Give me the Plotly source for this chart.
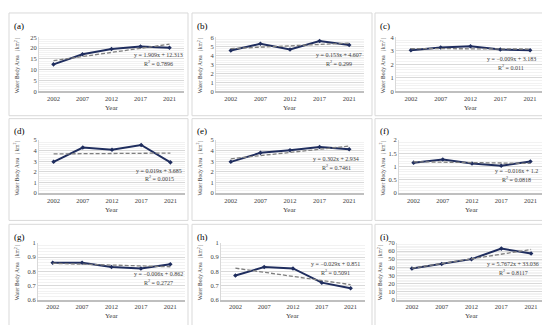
import plotly.graph_objects as go

W, H = 550, 325

years = ["2002", "2007", "2012", "2017", "2021"]

panel_labels = ["(a)", "(b)", "(c)", "(d)", "(e)", "(f)", "(g)", "(h)", "(i)"]

area_a = [12.5, 17.2, 19.6, 20.8, 20.2]
area_b = [4.55, 5.3, 4.65, 5.6, 5.15]
area_c = [3.05, 3.25, 3.35, 3.1, 3.05]
area_d = [2.95, 4.3, 4.1, 4.55, 2.9]
area_e = [2.95, 3.8, 4.05, 4.35, 4.15]
area_f = [1.15, 1.27, 1.12, 1.03, 1.19]
area_g = [0.86, 0.86, 0.83, 0.82, 0.85]
area_h = [0.77, 0.83, 0.82, 0.72, 0.68]
area_i = [38.5, 44.0, 50.0, 63.0, 57.0]

# trend-line end values (2002, 2021)
trend_a = [14.22, 21.86]
trend_b = [4.76, 5.37]
trend_c = [3.174, 3.138]
trend_d = [3.70, 3.78]
trend_e = [3.24, 4.44]
trend_f = [1.184, 1.12]
trend_g = [0.856, 0.832]
trend_h = [0.822, 0.706]
trend_i = [38.8, 61.9]

equations = ["y = 1.909x + 12.313", "y = 0.153x + 4.607", "y = −0.009x + 3.183",
             "y = 0.019x + 3.685", "y = 0.302x + 2.934", "y = −0.016x + 1.2",
             "y = −0.006x + 0.862", "y = −0.029x + 0.851", "y = 5.7672x + 33.036"]
r_squared = ["0.7896", "0.299", "0.011", "0.0015", "0.7461", "0.0818",
             "0.2727", "0.5091", "0.8117"]

y_ranges = [[0, 25], [0, 6], [0, 4], [0, 5], [0, 5], [0, 2], [0.6, 1], [0.6, 1], [0, 70]]
y_dticks = [5, 1, 1, 1, 1, 0.5, 0.1, 0.1, 10]

areas = [area_a, area_b, area_c, area_d, area_e, area_f, area_g, area_h, area_i]
trends = [trend_a, trend_b, trend_c, trend_d, trend_e, trend_f, trend_g, trend_h, trend_i]

# layout (pixels)
plot_x = [(31, 176), (208, 356), (388, 537),
          (31, 177), (208, 356), (391, 537),
          (30, 177), (213, 357), (389, 538)]
row_y = [(26, 81), (131, 185), (236, 294)]
panel_x = [(1, 180), (184, 364), (367, 548)]
panel_y = [(1, 106), (109, 213), (217, 322)]
eq_pos = [(150, 44), (331, 44), (503, 48),
          (151, 162), (328, 150), (508, 163),
          (150, 268), (327, 258), (505, 258)]
ytitle_dx = [8, 8, 8, 8, 8, 8, 8, 8, 5]

FONT = "Liberation Serif"
NAVY = "#1F2D5E"
TXT = "#404040"

def px(x):
    return x / W

def py(y):
    return 1 - y / H

fig = go.Figure()
annotations = []
shapes = []
layout = {}

for i in range(9):
    r, c = divmod(i, 3)
    n = "" if i == 0 else str(i + 1)
    xa, ya = "x" + n, "y" + n
    x0, x1 = plot_x[i]
    y0, y1 = row_y[r]
    layout["xaxis" + n] = dict(
        domain=[px(x0), px(x1)], anchor=ya, type="category",
        categoryorder="array", categoryarray=years,
        range=[-0.5, 4.5], showgrid=False, zeroline=False,
        showline=True, linecolor="#BFBFBF", linewidth=1.5,
        ticks="", tickfont=dict(family=FONT, size=6.5, color=TXT),
        fixedrange=True,
    )
    layout["yaxis" + n] = dict(
        domain=[py(y1), py(y0)], anchor=xa, range=y_ranges[i], dtick=y_dticks[i],
        showgrid=True, gridcolor="#D9D9D9", gridwidth=0.8, zeroline=False,
        minor=dict(dtick=y_dticks[i] / 5, showgrid=True, gridcolor="#F2F2F2", gridwidth=0.6),
        showline=True, linecolor="#D9D9D9", linewidth=1,
        ticks="", tickfont=dict(family=FONT, size=6.5, color=TXT),
        fixedrange=True,
    )
    fig.add_trace(go.Scatter(
        x=years, y=areas[i], mode="lines+markers", xaxis=xa, yaxis=ya,
        line=dict(color=NAVY, width=2), marker=dict(color=NAVY, size=3.5, symbol="diamond"),
        showlegend=False,
    ))
    # trend line
    fig.add_trace(go.Scatter(
        x=[years[0], years[-1]], y=trends[i], mode="lines", xaxis=xa, yaxis=ya,
        line=dict(color="#7F7F7F", width=1.3, dash="4px,2px"), showlegend=False,
        hoverinfo="skip",
    ))
    # panel border
    pxl, pxr = panel_x[c]
    pyt, pyb = panel_y[r]
    shapes.append(dict(type="rect", xref="paper", yref="paper",
                       x0=px(pxl), x1=px(pxr), y0=py(pyb), y1=py(pyt),
                       line=dict(color="#D9D9D9", width=1), fillcolor="rgba(0,0,0,0)",
                       layer="below"))
    # panel label
    annotations.append(dict(text=panel_labels[i], x=px(pxl + 3), y=py(pyt + 13),
                            xref="paper", yref="paper", showarrow=False,
                            xanchor="left", yanchor="middle",
                            font=dict(family=FONT, size=9, color="#000000")))
    # x title
    annotations.append(dict(text="Year", x=px((x0 + x1) / 2), y=py(y1 + 17),
                            xref="paper", yref="paper", showarrow=False,
                            xanchor="center", yanchor="middle",
                            font=dict(family=FONT, size=7, color=TXT)))
    # y title
    annotations.append(dict(text="Water Body Area（km<sup>2</sup>）", x=px(pxl + ytitle_dx[i]),
                            y=py((y0 + y1) / 2), xref="paper", yref="paper",
                            showarrow=False, textangle=-90,
                            xanchor="center", yanchor="middle",
                            font=dict(family=FONT, size=5.5, color=TXT)))
    # equation
    ex, ey = eq_pos[i]
    annotations.append(dict(text=equations[i], x=px(ex), y=py(ey),
                            xref="paper", yref="paper", showarrow=False,
                            xanchor="center", yanchor="middle",
                            font=dict(family=FONT, size=6, color=TXT)))
    annotations.append(dict(text="R<sup>2</sup> = " + r_squared[i], x=px(ex), y=py(ey + 8),
                            xref="paper", yref="paper", showarrow=False,
                            xanchor="center", yanchor="middle",
                            font=dict(family=FONT, size=6, color=TXT)))

fig.update_layout(
    width=W, height=H, margin=dict(l=0, r=0, t=0, b=0),
    paper_bgcolor="white", plot_bgcolor="white",
    annotations=annotations, shapes=shapes, **layout,
)

fig.write_html("out.html")
